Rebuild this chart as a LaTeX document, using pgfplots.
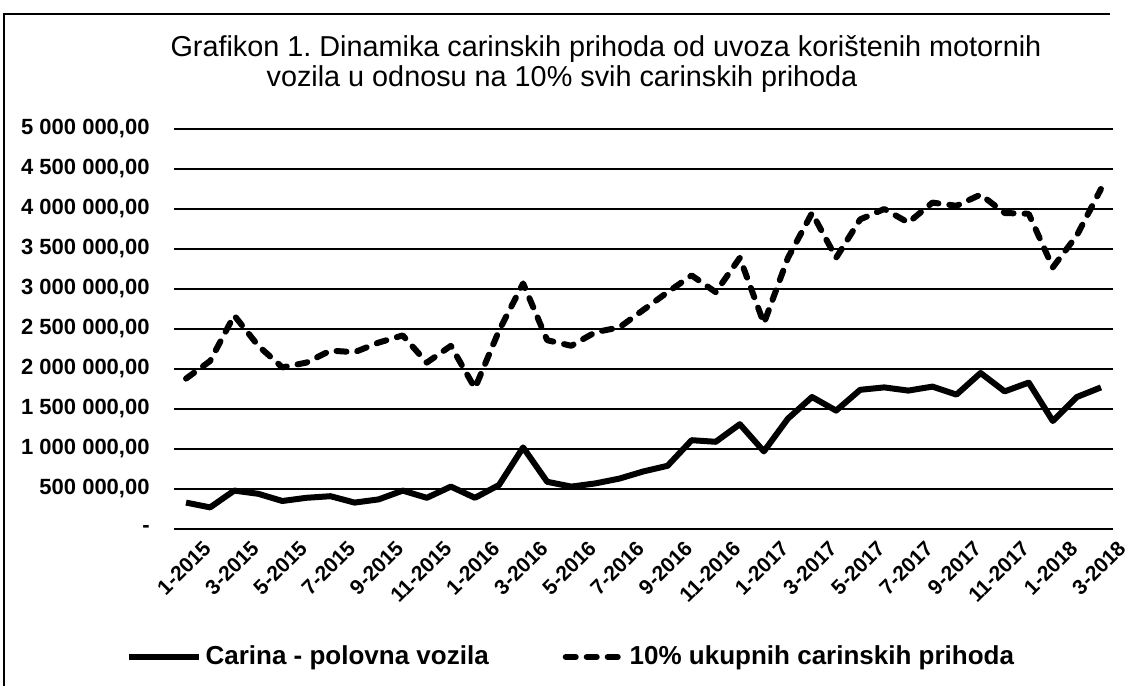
\documentclass[border=0pt]{standalone}
\usepackage{fontspec}
\setmainfont{Liberation Sans}
\usepackage{pgfplots}
\usepackage{pgfplotstable}
\pgfplotsset{compat=1.18}
\frenchspacing

\pgfplotstableread{
i carina
0 330000
1 270000
2 480000
3 440000
4 350000
5 390000
6 410000
7 330000
8 370000
9 480000
10 390000
11 530000
12 390000
13 550000
14 1020000
15 590000
16 530000
17 570000
18 630000
19 720000
20 790000
21 1110000
22 1090000
23 1310000
24 970000
25 1380000
26 1650000
27 1480000
28 1740000
29 1770000
30 1730000
31 1780000
32 1680000
33 1950000
34 1720000
35 1830000
36 1350000
37 1650000
38 1770000
}\carina

\pgfplotstableread{
i deset
0 1880000
1 2100000
2 2670000
3 2290000
4 2020000
5 2080000
6 2230000
7 2210000
8 2330000
9 2420000
10 2080000
11 2290000
12 1760000
13 2480000
14 3070000
15 2360000
16 2290000
17 2460000
18 2520000
19 2740000
20 2960000
21 3170000
22 2960000
23 3390000
24 2570000
25 3390000
26 3950000
27 3390000
28 3870000
29 4000000
30 3830000
31 4080000
32 4040000
33 4180000
34 3950000
35 3940000
36 3270000
37 3670000
38 4250000
}\deset

\begin{document}
\begin{tikzpicture}
\begin{axis}[
  scale only axis,
  width=469.5pt, height=200pt,
  xmin=-0.5, xmax=38.5,
  ymin=0, ymax=5000000,
  scaled y ticks=false,
  axis line style={draw=none},
  major tick length=0pt,
  ymajorgrids,
  major grid style={black, line width=1pt},
  ytick={0,500000,1000000,1500000,2000000,2500000,3000000,3500000,4000000,4500000,5000000},
  yticklabels={-,{500 000,00},{1 000 000,00},{1 500 000,00},{2 000 000,00},{2 500 000,00},{3 000 000,00},{3 500 000,00},{4 000 000,00},{4 500 000,00},{5 000 000,00}},
  yticklabel style={anchor=east, inner sep=0pt, xshift=-12pt, font=\bfseries\fontsize{11}{13}\selectfont},
  xtick={0,2,...,38},
  xticklabels={1-2015,3-2015,5-2015,7-2015,9-2015,11-2015,1-2016,3-2016,5-2016,7-2016,9-2016,11-2016,1-2017,3-2017,5-2017,7-2017,9-2017,11-2017,1-2018,3-2018},
  xticklabel style={rotate=45, anchor=east, inner sep=0pt, xshift=2pt, yshift=-13pt, font=\bfseries\fontsize{10.5}{12}\selectfont},
  clip=false,
  legend columns=2,
  legend style={at={(-0.052,-0.32)}, anchor=west, draw=none, fill=none, inner sep=0pt,
    font=\bfseries\fontsize{13}{15}\selectfont,
    /tikz/every even column/.append style={column sep=35pt}},
]
\addplot[black, line width=3pt, line join=round,
  legend image code/.code={\draw[black, line width=3pt] (0pt,0pt) -- (35pt,0pt);}] table[x=i, y=carina] {\carina};
\addlegendentry{Carina - polovna vozila}
\addplot[black, line width=3pt, line cap=round, line join=round, dash pattern=on 5pt off 5.5pt,
  legend image code/.code={\draw[black, line width=3pt, line cap=round, dash pattern=on 5pt off 5.5pt] (1.5pt,0pt) -- (30pt,0pt);}] table[x=i, y=deset] {\deset};
\addlegendentry{10\% ukupnih carinskih prihoda}
\end{axis}
\node[anchor=base, font=\fontsize{14.4}{16}\selectfont] at (216pt,236pt) {Grafikon 1. Dinamika carinskih prihoda od uvoza korištenih motornih};
\node[anchor=base, font=\fontsize{14.4}{16}\selectfont] at (194pt,221pt) {vozila u odnosu na 10\% svih carinskih prihoda};
\draw[line width=1pt] (-85pt,-78.5pt) -- (-85pt,257.5pt) -- (468pt,257.5pt);
\pgfresetboundingbox
\useasboundingbox (-87pt,-78.5pt) rectangle (479pt,264.5pt);
\end{tikzpicture}
\end{document}
